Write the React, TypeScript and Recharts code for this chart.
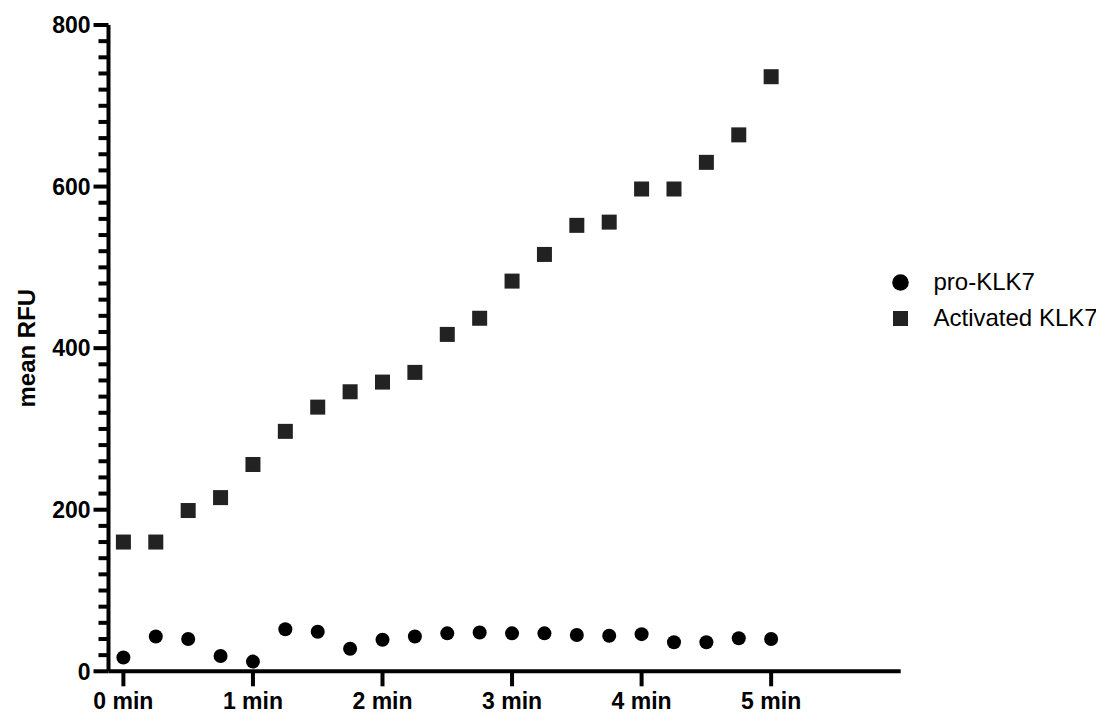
import { Legend, Scatter, ScatterChart, XAxis, YAxis } from 'recharts'

const TIMES = [0, 0.25, 0.5, 0.75, 1, 1.25, 1.5, 1.75, 2, 2.25, 2.5, 2.75, 3, 3.25, 3.5, 3.75, 4, 4.25, 4.5, 4.75, 5]

const PRO_KLK7 = [17, 43, 40, 19, 12, 52, 49, 28, 39, 43, 47, 48, 47, 47, 45, 44, 46, 36, 36, 41, 40]

const ACTIVATED_KLK7 = [160, 160, 199, 215, 256, 297, 327, 346, 358, 370, 417, 437, 483, 516, 552, 556, 597, 597, 630, 664, 736]

const X_TICKS = [0, 1, 2, 3, 4, 5]
const Y_MAJOR_TICKS = [0, 200, 400, 600, 800]
const Y_MINOR_STEP = 20

const FONT = '"Liberation Sans", Arial, Helvetica, sans-serif'

const toPoints = (values: number[]) => TIMES.map((t, i) => ({ x: t, y: values[i] }))

const proPoints = toPoints(PRO_KLK7)
const activatedPoints = toPoints(ACTIVATED_KLK7)

const yTicks: number[] = []
for (let v = 0; v <= Y_MAJOR_TICKS[Y_MAJOR_TICKS.length - 1]; v += Y_MINOR_STEP) {
  yTicks.push(v)
}

const YTick = (props: any) => {
  const { x, y, payload } = props
  const value = Math.round(payload.value)
  const major = Y_MAJOR_TICKS.includes(value)
  return (
    <g>
      <line x1={x - (major ? 15 : 10)} x2={x} y1={y} y2={y} stroke="#000" strokeWidth={4} />
      {major && (
        <text
          x={x - 18}
          y={y}
          dy="0.36em"
          textAnchor="end"
          fill="#000"
          fontSize={23}
          fontWeight="bold"
          fontFamily={FONT}
        >
          {value}
        </text>
      )}
    </g>
  )
}

const YLabel = (props: any) => {
  const { viewBox } = props
  const cy = viewBox.y + viewBox.height / 2
  return (
    <text
      x={19}
      y={cy}
      transform={`rotate(-90 19 ${cy})`}
      textAnchor="middle"
      dominantBaseline="central"
      fill="#000"
      fontSize={24}
      fontWeight="bold"
      fontFamily={FONT}
    >
      mean RFU
    </text>
  )
}

const LEGEND_ITEMS = [
  { name: 'pro-KLK7', shape: 'circle' },
  { name: 'Activated KLK7', shape: 'square' },
]

const LegendContent = () => (
  <div style={{ fontFamily: FONT, fontSize: 24, color: '#000' }}>
    {LEGEND_ITEMS.map((item) => (
      <div key={item.name} style={{ display: 'flex', alignItems: 'center', height: 36 }}>
        <svg width={17} height={17}>
          {item.shape === 'circle' ? (
            <circle cx={8.5} cy={8.5} r={8.3} fill="#000" />
          ) : (
            <rect x={1} y={1} width={15} height={15} fill="#222" />
          )}
        </svg>
        <span style={{ marginLeft: 25, whiteSpace: 'nowrap' }}>{item.name}</span>
      </div>
    ))}
  </div>
)

const CircleDot = (props: any) => <circle cx={props.cx} cy={props.cy} r={7} fill="#000" />

const SquareDot = (props: any) => (
  <rect x={props.cx - 7.5} y={props.cy - 7.5} width={15} height={15} fill="#222" />
)

export default function App() {
  return (
    <ScatterChart
      width={1096}
      height={710}
      margin={{ top: 17, right: 203.3, bottom: 6.7, left: 0 }}
    >
      <XAxis
        type="number"
        dataKey="x"
        domain={[-0.115, 6]}
        ticks={X_TICKS}
        interval={0}
        allowDataOverflow
        tickFormatter={(v) => `${v} min`}
        height={40}
        axisLine={{ stroke: '#000', strokeWidth: 4 }}
        tickLine={{ stroke: '#000', strokeWidth: 4 }}
        tickSize={15}
        tickMargin={6}
        tick={{ fill: '#000', fontSize: 23, fontWeight: 'bold', fontFamily: FONT }}
      />
      <YAxis
        type="number"
        dataKey="y"
        domain={[0, 800]}
        ticks={yTicks}
        interval={0}
        allowDataOverflow
        width={100.5}
        axisLine={{ stroke: '#000', strokeWidth: 4 }}
        tickLine={false}
        tickSize={0}
        tickMargin={0}
        tick={<YTick />}
        label={<YLabel />}
      />
      <Legend
        layout="horizontal"
        align="center"
        verticalAlign="middle"
        content={<LegendContent />}
        wrapperStyle={{ left: 883.5, top: 256, width: 220, height: 72 }}
      />
      <Scatter name="pro-KLK7" data={proPoints} shape={<CircleDot />} isAnimationActive={false} />
      <Scatter
        name="Activated KLK7"
        data={activatedPoints}
        shape={<SquareDot />}
        isAnimationActive={false}
      />
    </ScatterChart>
  )
}
